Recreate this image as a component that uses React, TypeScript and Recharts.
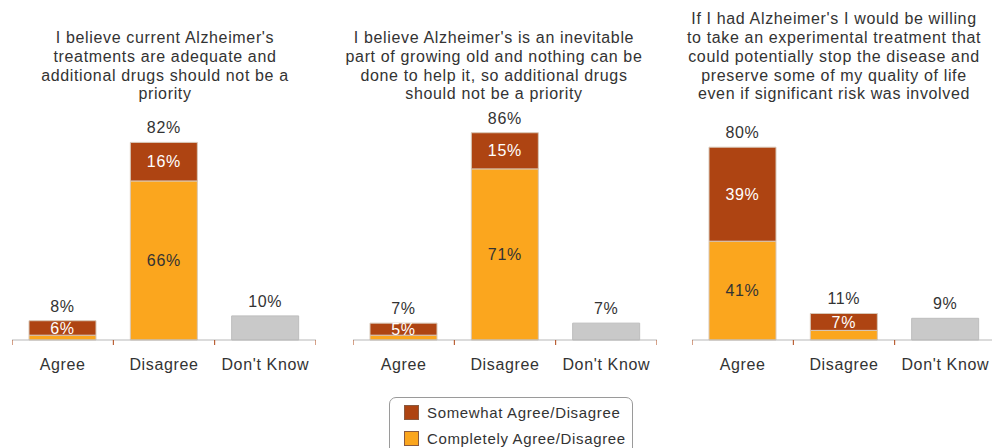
import React from 'react';
import { BarChart, Bar, XAxis, YAxis, LabelList } from 'recharts';

// Survey answers, percent of respondents
const categories = ['Agree', 'Disagree', "Don't Know"];

const titles1 = ["I believe current Alzheimer's", 'treatments are adequate and', 'additional drugs should not be a', 'priority'];
const somewhat1 = [6, 16, 0];
const completely1 = [2, 66, 0];
const dontKnow1 = [0, 0, 10];
const totals1 = [8, 82, 10];

const titles2 = ["I believe Alzheimer's is an inevitable", 'part of growing old and nothing can be', 'done to help it, so additional drugs', 'should not be a priority'];
const somewhat2 = [5, 15, 0];
const completely2 = [2, 71, 0];
const dontKnow2 = [0, 0, 7];
const totals2 = [7, 86, 7];

const titles3 = ["If I had Alzheimer's I would be willing", 'to take an experimental treatment that', 'could potentially stop the disease and', 'preserve some of my quality of life', 'even if significant risk was involved'];
const somewhat3 = [39, 7, 0];
const completely3 = [41, 4, 0];
const dontKnow3 = [0, 0, 9];
const totals3 = [80, 11, 9];

const RUST = '#ae4412';
const ORANGE = '#fba61e';
const GREY = '#c9c9c9';
const TEXT = '#333333';

function makeRows(somewhat: number[], completely: number[], dk: number[], totals: number[]) {
  return categories.map((name, i) => ({
    name,
    somewhat: somewhat[i],
    completely: completely[i],
    dk: dk[i],
    total: totals[i],
  }));
}

const pct = (v: any) => (v ? `${v}%` : '');
const bigPct = (v: any) => (v >= 10 ? `${v}%` : '');

// total above the top segment of each stack
function TotalLabel(props: any) {
  const { x, y, width, height, value } = props;
  if (!height || height <= 0) return null;
  return (
    <text x={Number(x) + Number(width) / 2} y={Number(y) - 9} textAnchor="middle" fill={TEXT} fontSize={16}>
      {value}%
    </text>
  );
}

// category label plus small tick marks on the band edges
function CatTick(props: any) {
  const { x, y, payload, index, visibleTicksCount } = props;
  const half = payload.offset || 0;
  const last = index === visibleTicksCount - 1;
  return (
    <g>
      <line x1={x - half} x2={x - half} y1={y} y2={y + 5} stroke={RUST} />
      {last && <line x1={x + half} x2={x + half} y1={y} y2={y + 5} stroke={RUST} />}
      <text x={x} y={y + 30} textAnchor="middle" fill={TEXT} fontSize={16}>
        {payload.value}
      </text>
    </g>
  );
}

function Panel({ left, rows }: { left: number; rows: any[] }) {
  return (
    <div style={{ position: 'absolute', left, top: 0 }}>
      <BarChart
        width={304}
        height={448}
        data={rows}
        margin={{ top: 99, right: 0, left: 0, bottom: 60 }}
      >
        <XAxis
          dataKey="name"
          axisLine={{ stroke: '#b8b8b8' }}
          tickLine={false}
          tickSize={0}
          tickMargin={0}
          height={48}
          tick={CatTick}
          interval={0}
        />
        <YAxis hide domain={[0, 100]} />
        <Bar dataKey="completely" stackId="s" fill={ORANGE} stroke="#d8c8b8" strokeWidth={1} barSize={67} isAnimationActive={false}>
          <LabelList dataKey="completely" position="center" formatter={bigPct} fill={TEXT} fontSize={16} />
        </Bar>
        <Bar dataKey="somewhat" stackId="s" fill={RUST} stroke="#d8c8b8" strokeWidth={1} barSize={67} isAnimationActive={false}>
          <LabelList dataKey="somewhat" position="center" formatter={pct} fill="#ffffff" fontSize={16} />
          <LabelList dataKey="total" content={TotalLabel} />
        </Bar>
        <Bar dataKey="dk" stackId="s" fill={GREY} stroke="#bdbdbd" strokeWidth={1} barSize={67} isAnimationActive={false}>
          <LabelList dataKey="total" content={TotalLabel} />
        </Bar>
      </BarChart>
    </div>
  );
}

function Title({ center, lines }: { center: number; lines: string[] }) {
  return (
    <div
      style={{
        position: 'absolute',
        left: center - 170,
        width: 340,
        bottom: 344,
        textAlign: 'center',
        fontSize: 16,
        lineHeight: '18.7px',
        color: TEXT,
      }}
    >
      {lines.map((l, i) => (
        <div key={i}>{l}</div>
      ))}
    </div>
  );
}

export default function App() {
  return (
    <div
      style={{
        position: 'fixed',
        left: 0,
        top: 0,
        width: 992,
        height: 448,
        overflow: 'hidden',
        background: '#fff',
        fontFamily: '"Liberation Sans", Arial, sans-serif',
        letterSpacing: '0.65px',
      }}
    >
      <Title center={165} lines={titles1} />
      <Title center={494} lines={titles2} />
      <Title center={834} lines={titles3} />
      <Panel left={12} rows={makeRows(somewhat1, completely1, dontKnow1, totals1)} />
      <Panel left={353} rows={makeRows(somewhat2, completely2, dontKnow2, totals2)} />
      <Panel left={692} rows={makeRows(somewhat3, completely3, dontKnow3, totals3)} />
      <div
        style={{
          position: 'absolute',
          left: 389,
          top: 397,
          width: 242,
          height: 70,
          border: '1px solid #9a9a9a',
          borderRadius: 7,
          fontSize: 15,
          color: TEXT,
        }}
      >
        {[
          { label: 'Somewhat Agree/Disagree', color: RUST, top: 6 },
          { label: 'Completely Agree/Disagree', color: ORANGE, top: 32 },
        ].map((it) => (
          <div key={it.label} style={{ position: 'absolute', left: 14, top: it.top, display: 'flex', alignItems: 'center', height: 16 }}>
            <span style={{ display: 'inline-block', width: 13, height: 13, background: it.color, border: '1px solid #8a5a40', marginRight: 8 }} />
            <span>{it.label}</span>
          </div>
        ))}
      </div>
    </div>
  );
}
